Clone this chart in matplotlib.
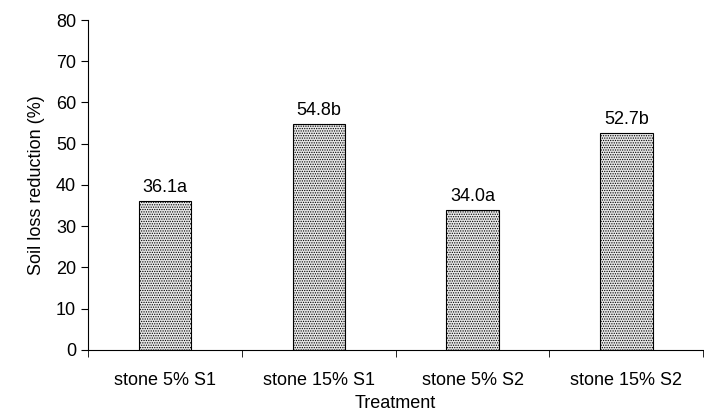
import matplotlib
matplotlib.use('Agg')
import matplotlib.pyplot as plt
import numpy as np

categories = ['stone 5% S1', 'stone 15% S1', 'stone 5% S2', 'stone 15% S2']
values = [36.1, 54.8, 34.0, 52.7]
labels = ['36.1a', '54.8b', '34.0a', '52.7b']

plt.rcParams['font.family'] = ['Liberation Sans', 'DejaVu Sans']
plt.rcParams['hatch.linewidth'] = 0.6
plt.rcParams['hatch.color'] = '#555555'

fig = plt.figure(figsize=(7.04, 4.17), dpi=100)
ax = fig.add_axes([0.125, 0.161, 0.874, 0.791])

x = np.arange(len(categories))
bars = ax.bar(x, values, width=0.34, facecolor='#e8e8e8', edgecolor='black',
              linewidth=0.8, hatch='.......')
for b, lab in zip(bars, labels):
    ax.text(b.get_x() + b.get_width() / 2, b.get_height() + 1.2, lab,
            ha='center', va='bottom', fontsize=13)

ax.set_xlim(-0.5, len(categories) - 0.5)
ax.set_ylim(0, 80)
ax.set_yticks(range(0, 81, 10))
ax.set_xticks(x)
ax.set_xticklabels(categories, fontsize=13)
ax.tick_params(axis='x', length=0, pad=16)
ax.set_xticks(np.arange(-0.5, len(categories) - 0.4, 1), minor=True)
ax.tick_params(axis='x', which='minor', length=5, direction='out')
ax.tick_params(axis='y', labelsize=13, direction='out', length=5)
ax.spines['top'].set_visible(False)
ax.spines['right'].set_visible(False)
ax.set_xlabel('Treatment', fontsize=13, labelpad=4)
ax.set_ylabel('Soil loss reduction (%)', fontsize=13, labelpad=8)

fig.savefig('out.png', dpi=100)
